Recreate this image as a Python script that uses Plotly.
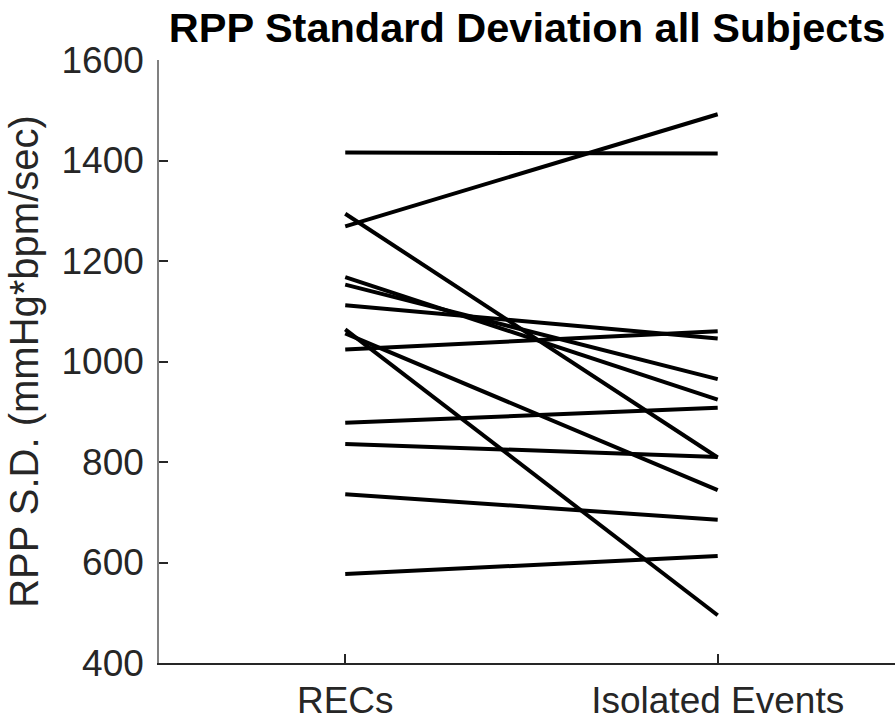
import plotly.graph_objects as go

categories = ["RECs", "Isolated Events"]
recs = [1416, 1269, 1294, 1168, 1153, 1112, 1024, 1064, 1056, 878, 836, 736, 577]
isolated = [1414, 1492, 809, 924, 965, 1046, 1060, 495, 744, 908, 810, 685, 613]
y_ticks = [400, 600, 800, 1000, 1200, 1400, 1600]

fig = go.Figure()
for a, b in zip(recs, isolated):
    fig.add_trace(go.Scatter(x=[1, 2], y=[a, b], mode="lines",
                             line=dict(color="black", width=4),
                             showlegend=False, hoverinfo="skip"))

font_fam = "Liberation Sans, Arial, sans-serif"
fig.update_layout(
    width=895, height=721,
    margin=dict(l=159, r=0, t=60, b=58),
    paper_bgcolor="white", plot_bgcolor="white",
    title=dict(text="<b>RPP Standard Deviation all Subjects</b>",
               x=0.5, xref="paper", xanchor="center",
               y=1 - 27/721, yanchor="middle",
               font=dict(family=font_fam, size=41.5, color="black")),
    xaxis=dict(range=[0.5, 2.476], tickvals=[1, 2], ticktext=categories,
               automargin=False,
               showgrid=False, zeroline=False, showline=True,
               linecolor="#262626", linewidth=2,
               ticks="inside", ticklen=9, tickcolor="#262626", tickwidth=1.5,
               ticklabelstandoff=4,
               tickfont=dict(family=font_fam, size=37, color="#262626")),
    yaxis=dict(range=[400, 1600], tickvals=y_ticks,
               automargin=False,
               showgrid=False, zeroline=False, showline=True,
               linecolor="#808080", linewidth=1.5,
               ticks="inside", ticklen=9, tickcolor="#262626", tickwidth=1.5,
               ticklabelstandoff=6,
               tickfont=dict(family=font_fam, size=37, color="#262626"),
               title=dict(text="RPP S.D. (mmHg*bpm/sec)", standoff=11,
                          font=dict(family=font_fam, size=40, color="#262626"))),
)
fig.write_html("out.html")
